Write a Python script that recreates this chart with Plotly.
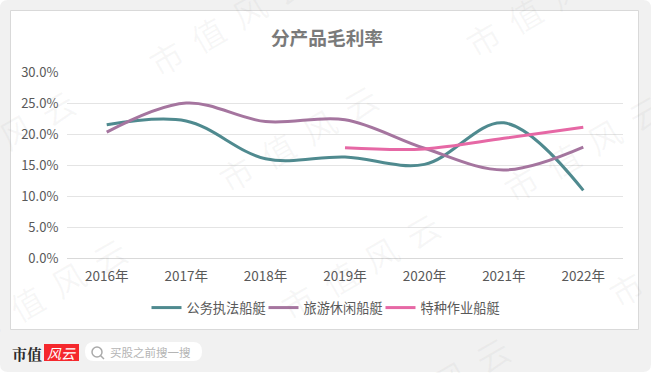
import plotly.graph_objects as go

W, H = 651, 373
L, R, T, B = 67, 623, 72, 258

years = ["2016年", "2017年", "2018年", "2019年", "2020年", "2021年", "2022年"]
gongwu = [21.5, 22.1, 16.0, 16.3, 15.1, 21.8, 10.9]
lvyou = [20.3, 25.0, 22.0, 22.3, 17.7, 14.2, 17.9]
tezhong = [None, None, None, 17.8, 17.6, 19.3, 21.1]
names = ["公务执法船艇", "旅游休闲船艇", "特种作业船艇"]
colors = ["#4f8a8f", "#a5759f", "#e668a5"]
ticks = [0, 5, 10, 15, 20, 25, 30]
ticklabels = ["0.0%", "5.0%", "10.0%", "15.0%", "20.0%", "25.0%", "30.0%"]
title = "分产品毛利率"
search_text = "买股之前搜一搜"
wm_chars = "市值风云"
wm_centres = [(228, 22), (298, 138), (583, 148), (360, 266), (47, 291), (-5, 143), (688, 253), (430, 390), (545, 3)]

FONT = "Noto Sans CJK SC"

def px(x):
    return (x - L) / (R - L)

def py(y):
    return (B - y) / (B - T)

fig = go.Figure()
for n, v, c in zip(names, [gongwu, lvyou, tezhong], colors):
    fig.add_trace(go.Scatter(x=years, y=v, name=n, mode="lines",
                             line=dict(color=c, width=3, shape="spline", smoothing=1.0),
                             connectgaps=False))

def rr(x0, y0, x1, y1, r):
    return (f"M {px(x0+r)} {py(y0)} L {px(x1-r)} {py(y0)} Q {px(x1)} {py(y0)} {px(x1)} {py(y0+r)} "
            f"L {px(x1)} {py(y1-r)} Q {px(x1)} {py(y1)} {px(x1-r)} {py(y1)} "
            f"L {px(x0+r)} {py(y1)} Q {px(x0)} {py(y1)} {px(x0)} {py(y1-r)} "
            f"L {px(x0)} {py(y0+r)} Q {px(x0)} {py(y0)} {px(x0+r)} {py(y0)} Z")

shapes = [
    dict(type="path", xref="paper", yref="paper", layer="below", path=rr(0, 0, 651, 372, 8),
         fillcolor="#f1f1f1", line=dict(width=0)),
    dict(type="rect", xref="paper", yref="paper", layer="below", x0=px(10.5), x1=px(638.5), y0=py(10.5), y1=py(329.5),
         fillcolor="#ffffff", line=dict(color="#d9d9d9", width=1)),
    dict(type="path", xref="paper", yref="paper", layer="below", path=rr(85, 342, 202, 361, 9),
         fillcolor="#ffffff", line=dict(width=0)),
    dict(type="rect", xref="paper", yref="paper", layer="below", x0=px(44), x1=px(79), y0=py(344), y1=py(361),
         fillcolor="#f5282d", line=dict(width=0)),
    dict(type="circle", xref="paper", yref="paper", x0=px(92), x1=px(102), y0=py(347), y1=py(357),
         line=dict(color="#aaaaaa", width=1.5)),
    dict(type="line", xref="paper", yref="paper", x0=px(100.5), x1=px(104), y0=py(355.5), y1=py(359),
         line=dict(color="#aaaaaa", width=1.5)),
]

ann = [
    dict(text=search_text, x=px(108), y=py(352), xanchor="left", yanchor="middle",
         font=dict(size=11.5, color="#b5b5b5", family=FONT)),
    dict(text="<b>市值</b>", x=px(10), y=py(353), xanchor="left", yanchor="middle",
         font=dict(size=15, color="#2b2b2b", family="Noto Serif CJK SC, Noto Sans CJK SC")),
    dict(text="<i>风云</i>", x=px(61.5), y=py(352.5), xanchor="center", yanchor="middle",
         font=dict(size=14, color="#ffffff", family=FONT)),
]
for cx, cy in wm_centres:
    ann.append(dict(text="  ".join(wm_chars), x=px(cx), y=py(cy), xanchor="center", yanchor="middle",
                    textangle=-30, font=dict(size=33, color="rgba(120,120,120,0.06)", family=FONT)))
for a in ann:
    a.update(xref="paper", yref="paper", showarrow=False)

fig.update_layout(
    width=W, height=H, autosize=False,
    margin=dict(l=L, r=W - R, t=T, b=H - B, pad=0),
    paper_bgcolor="#ffffff", plot_bgcolor="rgba(0,0,0,0)",
    font=dict(family=FONT, size=13, color="#595959"),
    title=dict(text="<b>" + title + "</b>", x=327 / W, xanchor="center", y=1 - 38 / H, yanchor="middle",
               font=dict(size=18.7, color="#7a7a7a", family=FONT)),
    xaxis=dict(type="category", categoryorder="array", categoryarray=years, range=[-0.5, 6.5], showgrid=False,
               zeroline=False, showline=True, linecolor="#d9d9d9", linewidth=1, ticks="outside", ticklen=6,
               tickcolor="rgba(0,0,0,0)", tickfont=dict(size=13.5, color="#595959")),
    yaxis=dict(range=[0, 30], tickvals=ticks, ticktext=ticklabels, gridcolor="#e4e4e4", gridwidth=1,
               zeroline=False, ticks="outside", ticklen=5, tickcolor="rgba(0,0,0,0)",
               tickfont=dict(size=13, color="#595959")),
    legend=dict(orientation="h", x=px(322), xanchor="center", y=py(308), yanchor="middle",
                font=dict(size=13.2, color="#595959"), traceorder="normal", bgcolor="rgba(0,0,0,0)",
                entrywidth=72, entrywidthmode="pixels", itemwidth=30),
    shapes=shapes, annotations=ann,
)
fig.write_html("out.html", config={"displayModeBar": False},
               post_script="document.body.style.margin='0';document.documentElement.style.overflow='hidden';"
                           "document.querySelectorAll('.legend .scrollbox').forEach(function(e){e.removeAttribute('clip-path');e.style.clipPath='none';});")
